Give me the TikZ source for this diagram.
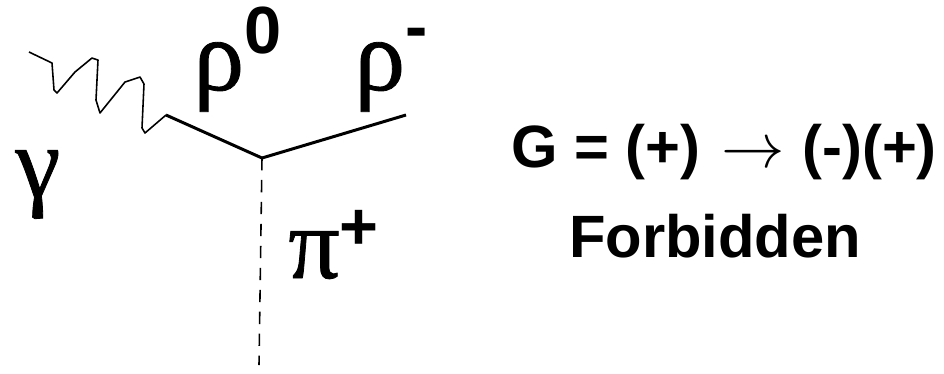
\documentclass[tikz,border=0pt]{standalone}
\usepackage{fontspec}
\setmainfont{Liberation Sans}
\newfontfamily\greekfont[FakeBold=0.8]{Liberation Serif}
\newfontfamily\chargefont{Liberation Sans}
\usetikzlibrary{positioning}
\newcommand{\charge}[2]{\raisebox{#1}{\fontsize{38}{38}\selectfont\chargefont\bfseries #2}}

\begin{document}
\begin{tikzpicture}[
  x=0.02cm, y=-0.02cm,
  font=\fontsize{34}{34}\selectfont\bfseries,
  lab/.style={anchor=base west, inner sep=0pt, font=\fontsize{58}{58}\selectfont\greekfont},
  rule/.style={anchor=base, inner sep=0pt},
  photon/.style={line width=0.9pt, line join=round},
  rholine/.style={line width=1.7pt},
  piline/.style={line width=0.9pt, dash pattern=on 7pt off 5.5pt}
]
\useasboundingbox (0,0) rectangle (944,373);

% ---------- vertex ----------
\coordinate (vertex) at (262,158);
\coordinate (joint) at (166,115);
\coordinate (rhoend) at (406,115);
\coordinate (piend) at (259,365);
\coordinate (gammaend) at (29,52);

\draw[rholine] (joint) -- (vertex);
\draw[rholine] (vertex) -- (rhoend);
\draw[piline] (vertex) -- (piend);

% ---------- photon ----------
\draw[photon] (gammaend) -- (52,63) -- (54,90) -- (57,93) -- (75,72) -- (92,58)
  -- (98,60) -- (96,100) -- (100,113) -- (125,82) -- (140,77) -- (144,84)
  -- (142,128) -- (145,133) -- (166,115) -- (joint);

% ---------- labels ----------
\node[lab] (gamma) at (15,197) {γ};
\node[lab] (rhozero) at (193,90) {ρ\charge{21pt}{0}};
\node[lab] (rhominus) at (354,90) {ρ\charge{23pt}{-}};
\node[lab] (piplus) at (288,278) {π\charge{16pt}{+}};

% ---------- G parity ----------
\node[rule] (parity) at (724,167) {G = (+)\hspace{12pt}\scalebox{1.45}{$\rightarrow$}\hspace{10pt}(-)(+)};
\node[rule] (forbid) at (715,257) {Forbidden};

\end{tikzpicture}
\end{document}
